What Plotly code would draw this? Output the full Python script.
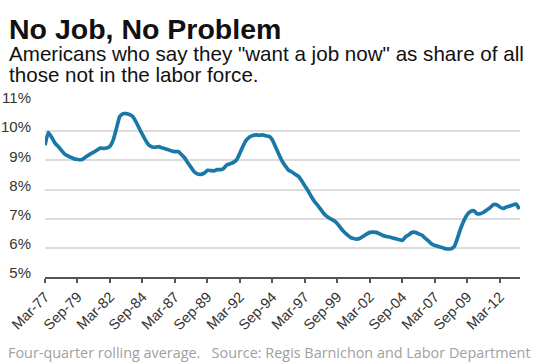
import plotly.graph_objects as go

# Quarterly share (%) of those not in the labor force who "want a job now", starting Mar-77
share_pct = [
    9.52, 9.95, 9.80, 9.60, 9.48, 9.35, 9.22, 9.15, 9.10, 9.05,
    9.03, 9.02, 9.07, 9.15, 9.22, 9.28, 9.35, 9.42, 9.41, 9.42,
    9.48, 9.70, 10.10, 10.50, 10.60, 10.60, 10.57, 10.50, 10.32, 10.10,
    9.88, 9.68, 9.52, 9.46, 9.45, 9.47, 9.43, 9.40, 9.36, 9.32,
    9.30, 9.30, 9.20, 9.08, 8.91, 8.75, 8.60, 8.53, 8.52, 8.56,
    8.66, 8.65, 8.64, 8.68, 8.68, 8.72, 8.85, 8.88, 8.93, 9.02,
    9.25, 9.50, 9.70, 9.80, 9.85, 9.87, 9.86, 9.87, 9.84, 9.82,
    9.70, 9.45, 9.20, 8.97, 8.80, 8.66, 8.60, 8.52, 8.45, 8.30,
    8.12, 7.95, 7.75, 7.58, 7.45, 7.30, 7.15, 7.06, 6.99, 6.93,
    6.83, 6.68, 6.55, 6.45, 6.36, 6.32, 6.30, 6.33, 6.40, 6.47,
    6.53, 6.54, 6.53, 6.48, 6.42, 6.39, 6.37, 6.34, 6.31, 6.28,
    6.25, 6.38, 6.45, 6.53, 6.53, 6.48, 6.44, 6.33, 6.24, 6.13,
    6.08, 6.05, 6.02, 5.98, 5.96, 5.97, 6.05, 6.35, 6.68, 6.95,
    7.15, 7.25, 7.27, 7.17, 7.17, 7.22, 7.30, 7.38, 7.48, 7.48,
    7.40, 7.35, 7.40, 7.43, 7.47, 7.50, 7.33,
]
quarter_index = list(range(len(share_pct)))

tick_positions = [0, 10, 20, 30, 40, 50, 60, 70, 80, 90, 100, 110, 120, 130, 140]
tick_labels = ["Mar-77", "Sep-79", "Mar-82", "Sep-84", "Mar-87", "Sep-89", "Mar-92",
               "Sep-94", "Mar-97", "Sep-99", "Mar-02", "Sep-04", "Mar-07", "Sep-09", "Mar-12"]
y_ticks = [5, 6, 7, 8, 9, 10, 11]
y_tick_labels = ["5%", "6%", "7%", "8%", "9%", "10%", "11%"]

title_text = "No Job, No Problem"
subtitle_lines = ['Americans who say they "want a job now" as share of all',
                  "those not in the labor force."]
footer_text = "Four-quarter rolling average.   Source: Regis Barnichon and Labor Department"

fig = go.Figure()
fig.add_trace(go.Scatter(
    x=quarter_index, y=share_pct, mode="lines",
    line=dict(color="#1878a8", width=3.7, shape="spline", smoothing=0.4),
    hoverinfo="skip", showlegend=False, cliponaxis=False,
))

W, H = 533, 362
L, R, T, B = 45, 13, 102, 85
pw, ph = W - L - R, H - T - B

def px_x(X):
    return (X - L) / pw

def px_y(Y):
    return (H - B - Y) / ph

fig.update_layout(
    width=W, height=H,
    margin=dict(l=L, r=R, t=T, b=B, pad=0, autoexpand=False),
    paper_bgcolor="white", plot_bgcolor="white",
    font=dict(family="Liberation Sans, Arial, sans-serif", color="#333333"),
    xaxis=dict(
        range=[0, 146.2], tickmode="array", tickvals=tick_positions, ticktext=tick_labels,
        tickangle=-45, ticks="outside", ticklen=4, tickwidth=1.5, tickcolor="#555555",
        showline=True, linecolor="#555555", linewidth=1.5, showgrid=False, zeroline=False,
        tickfont=dict(size=14.5, color="#333333"), automargin=False,
    ),
    yaxis=dict(
        range=[5, 11], tickmode="array", tickvals=y_ticks, ticktext=y_tick_labels,
        showgrid=True, gridcolor="#dcdcdc", gridwidth=2, zeroline=False, showline=False,
        ticks="", tickfont=dict(size=15, color="#333333"), ticklabelstandoff=13,
        ticklabelshift=-4, automargin=False,
    ),
    annotations=[
        dict(text="<b>" + title_text + "</b>", x=px_x(7), y=px_y(28.5), xref="paper", yref="paper",
             xanchor="left", yanchor="middle", showarrow=False,
             font=dict(size=28.5, color="#111111", family="Liberation Sans, Arial, sans-serif")),
        dict(text=subtitle_lines[0], x=px_x(7), y=px_y(53.5), xref="paper", yref="paper",
             xanchor="left", yanchor="middle", showarrow=False,
             font=dict(size=20.6, color="#111111", family="Liberation Sans, Arial, sans-serif")),
        dict(text=subtitle_lines[1], x=px_x(7), y=px_y(75), xref="paper", yref="paper",
             xanchor="left", yanchor="middle", showarrow=False,
             font=dict(size=20.6, color="#111111", family="Liberation Sans, Arial, sans-serif")),
        dict(text=footer_text, x=px_x(6), y=px_y(352), xref="paper", yref="paper",
             xanchor="left", yanchor="middle", showarrow=False,
             font=dict(size=14.4, color="#a0a0a0", family="Open Sans, sans-serif")),
    ],
)
fig.write_html("out.html", config={"displayModeBar": False},
               post_script="document.body.style.margin='0px';")
